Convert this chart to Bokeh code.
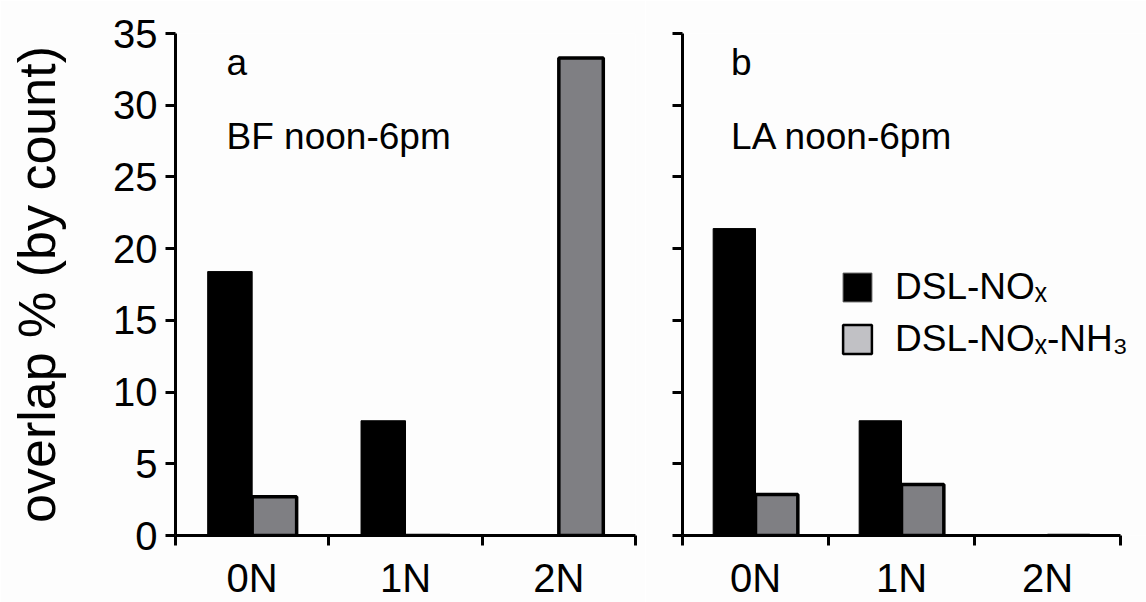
from bokeh.plotting import figure
from bokeh.models import (Range1d, LinearAxis, FixedTicker, Legend, LegendItem, Label,
                          ColumnDataSource)
from bokeh.transform import dodge
from bokeh.layouts import row
from bokeh.embed import file_html
from bokeh.resources import INLINE

# ---------------- data ----------------
categories = ["0N", "1N", "2N"]
bf_nox = [18.4, 8.0, 0.0]
bf_nox_nh3 = [2.7, 0.0, 33.3]
la_nox = [21.4, 8.0, 0.0]
la_nox_nh3 = [2.85, 3.55, 0.0]
y_ticks = [0, 5, 10, 15, 20, 25, 30, 35]
panel_letters = ["a", "b"]
panel_titles = ["BF noon-6pm", "LA noon-6pm"]
series_names = ["DSL-NO\u2093", "DSL-NO\u2093-NH\u2083"]
y_label = "overlap % (by count)"

FONT = "Liberation Sans"
BG = "#fdfdfd"
GRAY = "#7f7f83"
LEGEND_GRAY = "#c1c1c5"

centers = [i + 0.5 for i in range(len(categories))]
edges = [i for i in range(len(categories) + 1)]
n_cat = len(categories)


def style_axis(ax):
    ax.axis_line_width = 3
    ax.axis_line_color = "black"
    ax.major_tick_line_width = 3
    ax.minor_tick_line_width = 3
    ax.major_tick_in = 0
    ax.minor_tick_in = 0
    ax.major_label_text_font = FONT
    ax.major_label_text_color = "black"


def make_panel(nox, nh3, letter, title, width, bl, br, x_end, first):
    p = figure(x_range=Range1d(0, x_end), y_range=Range1d(0, 35),
               width=width, height=602, output_backend="svg", toolbar_location=None,
               x_axis_location=None, y_axis_location=None,
               min_border_left=bl, min_border_right=br, min_border_top=33, min_border_bottom=65)
    p.background_fill_color = BG
    p.border_fill_color = BG
    p.outline_line_color = None
    p.grid.visible = False

    src = ColumnDataSource(dict(pos=centers, cat=categories, nox=nox, nh3=nh3))
    p.vbar(x=dodge("pos", -0.145), top="nox", bottom=0, width=0.29, source=src,
           fill_color="black", line_color="black", line_width=1)
    p.vbar(x=dodge("pos", 0.145), top="nh3", bottom=0, width=0.29, source=src,
           fill_color=GRAY, line_color="black", line_width=3.5)

    # y axis
    if first:
        yax = LinearAxis(ticker=FixedTicker(ticks=y_ticks))
        style_axis(yax)
        yax.major_tick_out = 10
        yax.minor_tick_line_color = None
        yax.major_label_text_font_size = "40px"
        yax.major_label_standoff = 8
        yax.axis_label = y_label
        yax.axis_label_text_font = FONT
        yax.axis_label_text_color = "black"
        yax.axis_label_text_font_size = "52px"
        yax.axis_label_text_font_style = "normal"
        yax.axis_label_standoff = 44
    else:
        # ticks only, no labels
        yax = LinearAxis(ticker=FixedTicker(ticks=[], minor_ticks=y_ticks))
        style_axis(yax)
        yax.minor_tick_out = 10
        yax.major_tick_out = 0
        yax.major_label_standoff = 0
    p.add_layout(yax, "left")

    # x axis: labels at category centres, tick marks at category edges
    xax = LinearAxis(ticker=FixedTicker(ticks=centers, minor_ticks=edges),
                     major_label_overrides={c: n for c, n in zip(centers, categories)},
                     bounds=(0, n_cat))
    style_axis(xax)
    xax.major_tick_line_color = None
    xax.major_tick_out = 10
    xax.minor_tick_out = 10
    xax.major_label_text_font_size = "40px"
    xax.major_label_standoff = 10
    p.add_layout(xax, "below")

    p.add_layout(Label(x=0.333, y=32.95, text=letter, text_font=FONT,
                       text_font_size="37px", text_baseline="alphabetic", text_color="black"))
    p.add_layout(Label(x=0.333, y=27.8, text=title, text_font=FONT,
                       text_font_size="37px", text_baseline="alphabetic", text_color="black"))
    return p, src


p1, s1 = make_panel(bf_nox, bf_nox_nh3, panel_letters[0], panel_titles[0],
                    645, 175, 10, n_cat, True)
# right panel: frame runs to the page edge so the legend is not clipped;
# the axis itself stops at the last category edge
p2, s2 = make_panel(la_nox, la_nox_nh3, panel_letters[1], panel_titles[1],
                    501, 37, 0, n_cat * 464 / 438, False)

# legend swatches: hidden copies of the series styled like the reference legend
r1 = p2.vbar(x=dodge("pos", -0.145), top="nox", bottom=0, width=0.29, source=s2,
             fill_color="black", line_color="#555555", line_width=1, visible=False)
r2 = p2.vbar(x=dodge("pos", 0.145), top="nh3", bottom=0, width=0.29, source=s2,
             fill_color=LEGEND_GRAY, line_color="black", line_width=2.5, visible=False)
legend = Legend(items=[LegendItem(label=series_names[0], renderers=[r1]),
                       LegendItem(label=series_names[1], renderers=[r2])],
                location=(157, 175), orientation="vertical", click_policy="none",
                glyph_width=36, glyph_height=36, label_standoff=20, spacing=10,
                padding=0, margin=0, border_line_color=None, background_fill_alpha=0,
                inactive_fill_alpha=0,
                label_text_font=FONT, label_text_font_size="37px", label_text_color="black")
p2.add_layout(legend)

layout = row(p1, p2, spacing=0)
open("out.html", "w").write(file_html(layout, INLINE))
